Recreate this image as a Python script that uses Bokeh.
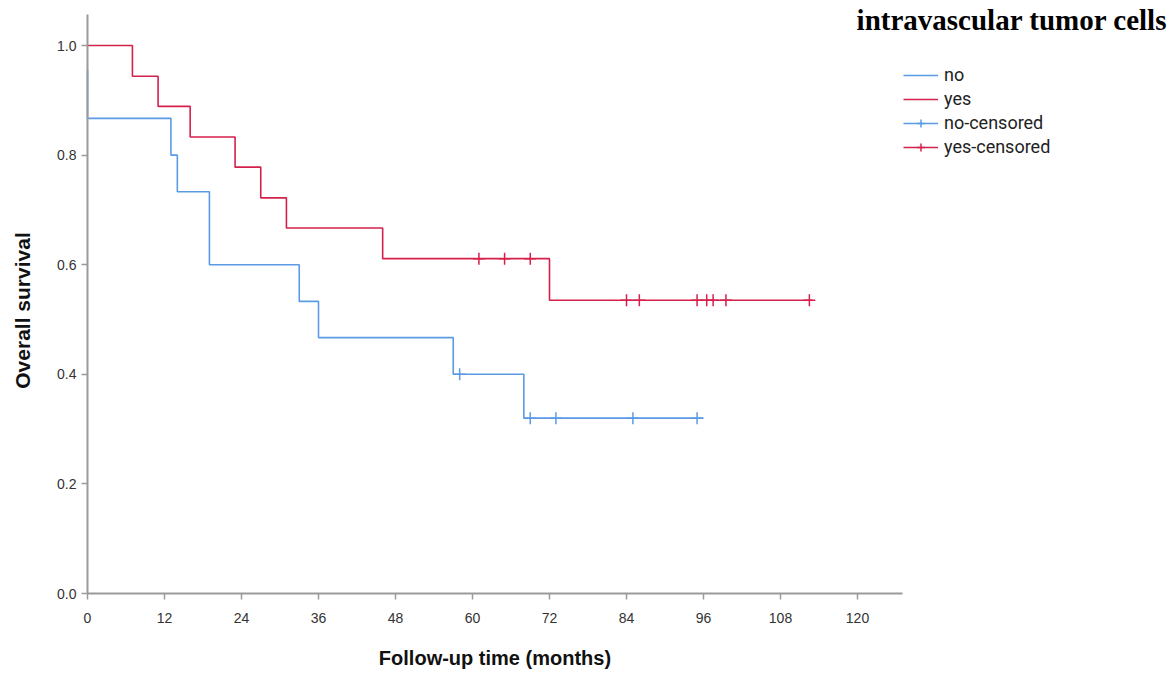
import math
from bokeh.plotting import figure
from bokeh.models import Range1d, FixedTicker, Legend, LegendItem, Label, CustomJSTickFormatter
from bokeh.embed import file_html
from bokeh.resources import INLINE

# data
no_times = [0, 0, 13, 14, 19, 33, 36, 57, 68, 96]
no_surv = [0.956, 0.867, 0.8, 0.733, 0.6, 0.533, 0.467, 0.4, 0.32, 0.32]
yes_times = [0, 7, 11, 16, 23, 27, 31, 46, 72, 113]
yes_surv = [1.0, 0.944, 0.889, 0.833, 0.778, 0.722, 0.667, 0.611, 0.535, 0.535]
no_cens_t = [58, 69, 73, 85, 95]
no_cens_s = [0.4, 0.32, 0.32, 0.32, 0.32]
yes_cens_t = [61, 65, 69, 84, 86, 95, 96.5, 97.5, 99.5, 112.5]
yes_cens_s = [0.611, 0.611, 0.611, 0.535, 0.535, 0.535, 0.535, 0.535, 0.535, 0.535]
x_ticks = [0, 12, 24, 36, 48, 60, 72, 84, 96, 108, 120]
y_ticks = [0.0, 0.2, 0.4, 0.6, 0.8, 1.0]
x_max, y_max = 127, 1.057

BLUE = "#5b9be6"
RED = "#d6204c"
AXIS = "#9a9a9a"

W, H = 1168, 672
X0, Y0 = 87, 593            # pixel position of the (0, 0) corner
px_per_month = 770 / 120.0
px_per_unit = 548.0

p = figure(width=W, height=H, output_backend="svg", toolbar_location=None,
           x_range=Range1d(-X0 / px_per_month, (W - X0) / px_per_month),
           y_range=Range1d(-(H - Y0) / px_per_unit, Y0 / px_per_unit),
           min_border_left=0, min_border_top=0, min_border_right=0, min_border_bottom=0)
p.outline_line_color = None
p.xgrid.visible = False
p.ygrid.visible = False

r_no = p.step(no_times, no_surv, mode="after", line_color=BLUE, line_width=1.6)
r_yes = p.step(yes_times, yes_surv, mode="after", line_color=RED, line_width=1.6)
r_nc = p.scatter(no_cens_t, no_cens_s, marker="cross", size=12, line_color=BLUE, line_width=1.5)
r_yc = p.scatter(yes_cens_t, yes_cens_s, marker="cross", size=12, line_color=RED, line_width=1.5)

# hidden helper lines for legend icons
h_nl = p.line([0, 1], [0, 0], line_color=BLUE, line_width=1.6, visible=False)
h_yl = p.line([0, 1], [0, 0], line_color=RED, line_width=1.6, visible=False)

for ax in (p.xaxis[0], p.yaxis[0]):
    ax.fixed_location = 0
    ax.axis_line_color = AXIS
    ax.axis_line_width = 2
    ax.major_tick_line_color = AXIS
    ax.major_tick_line_width = 1.5
    ax.major_tick_in = 0
    ax.major_tick_out = 6
    ax.minor_tick_line_color = None
    ax.major_label_text_font = "Liberation Sans"
    ax.major_label_text_font_size = "14px"
    ax.major_label_text_color = "#333333"

p.xaxis.bounds = (0, x_max)
p.yaxis.bounds = (0, y_max)
p.xaxis.ticker = FixedTicker(ticks=x_ticks)
p.yaxis.ticker = FixedTicker(ticks=y_ticks)
p.yaxis.formatter = CustomJSTickFormatter(code="return tick.toFixed(1);")
p.xaxis.major_label_standoff = 13
p.yaxis.major_label_standoff = 5

xlabel = Label(x=x_max / 2, y=15, x_units="data", y_units="screen",
               text="Follow-up time (months)", text_align="center", text_baseline="alphabetic",
               text_font="Liberation Sans", text_font_style="bold", text_font_size="20px",
               text_color="#111111")
p.add_layout(xlabel)

ylabel = Label(x=22, y=H - 310, x_units="screen", y_units="screen", angle=math.pi / 2,
               text="Overall survival", text_align="center", text_baseline="middle",
               text_font="Liberation Sans", text_font_style="bold", text_font_size="21px",
               text_color="#111111")
p.add_layout(ylabel)

legend = Legend(items=[
    LegendItem(label="no", renderers=[h_nl]),
    LegendItem(label="yes", renderers=[h_yl]),
    LegendItem(label="no-censored", renderers=[h_nl, r_nc]),
    LegendItem(label="yes-censored", renderers=[h_yl, r_yc]),
], location=(903, H - 157))
legend.border_line_color = None
legend.background_fill_alpha = 0
legend.padding = 0
legend.margin = 0
legend.glyph_width = 35
legend.glyph_height = 20
legend.label_height = 20
legend.spacing = 3
legend.label_standoff = 6
legend.label_text_font = "Roboto"
legend.label_text_font_size = "18px"
legend.label_text_color = "#222222"
p.add_layout(legend, "center")

title = Label(x=1167, y=H - 19, x_units="screen", y_units="screen",
              text="intravascular tumor cells", text_align="right", text_baseline="alphabetic",
              text_font="Liberation Serif", text_font_style="bold", text_font_size="29px",
              text_color="#000000")
p.add_layout(title)

open("out.html", "w").write(file_html(p, INLINE))
